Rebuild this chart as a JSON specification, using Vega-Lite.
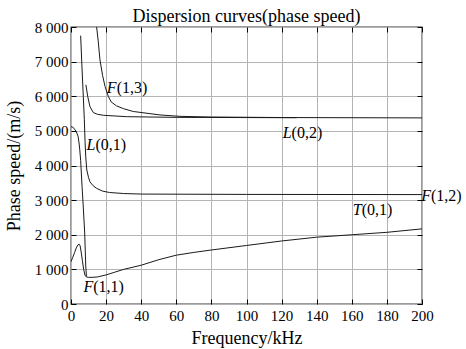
{
  "$schema": "https://vega.github.io/schema/vega-lite/v6.json",
  "width": 351,
  "height": 277,
  "autosize": "none",
  "padding": {"left": 71, "top": 27, "right": 44, "bottom": 45},
  "background": "white",
  "title": {
    "text": "Dispersion curves(phase speed)",
    "font": "Liberation Serif",
    "fontSize": 18,
    "fontWeight": "normal",
    "color": "black",
    "offset": -6
  },
  "config": {
    "font": "Liberation Serif",
    "style": {
      "guide-label": {"font": "Liberation Serif", "fontSize": 15, "fill": "black"},
      "guide-title": {"font": "Liberation Serif", "fontSize": 18, "fill": "black"}
    },
    "view": {"stroke": "#7a7a7a", "strokeWidth": 1.5},
    "axis": {
      "labelFont": "Liberation Serif",
      "titleFont": "Liberation Serif",
      "labelColor": "black",
      "titleColor": "black",
      "labelFontSize": 15,
      "titleFontSize": 18,
      "titleFontWeight": "normal",
      "tickColor": "black",
      "tickSize": -5,
      "domain": false,
      "labelFlush": false,
      "gridColor": "#b4b4b4",
      "gridOpacity": 1,
      "gridWidth": 1
    }
  },
  "datasets": {
    "curves": [
      {"mode": "F11", "f": 0, "v": 1220}, {"mode": "F11", "f": 1, "v": 1350}, {"mode": "F11", "f": 2, "v": 1480},
      {"mode": "F11", "f": 3, "v": 1620}, {"mode": "F11", "f": 4, "v": 1710}, {"mode": "F11", "f": 4.6, "v": 1730},
      {"mode": "F11", "f": 5.2, "v": 1680}, {"mode": "F11", "f": 5.8, "v": 1500}, {"mode": "F11", "f": 6.5, "v": 1250},
      {"mode": "F11", "f": 7.2, "v": 1000}, {"mode": "F11", "f": 8, "v": 830}, {"mode": "F11", "f": 8.8, "v": 780},
      {"mode": "F11", "f": 10, "v": 770}, {"mode": "F11", "f": 12, "v": 770}, {"mode": "F11", "f": 15, "v": 780},
      {"mode": "F11", "f": 20, "v": 840}, {"mode": "F11", "f": 25, "v": 920}, {"mode": "F11", "f": 30, "v": 1000},
      {"mode": "F11", "f": 40, "v": 1120}, {"mode": "F11", "f": 50, "v": 1280}, {"mode": "F11", "f": 60, "v": 1410},
      {"mode": "F11", "f": 70, "v": 1490}, {"mode": "F11", "f": 80, "v": 1560}, {"mode": "F11", "f": 100, "v": 1690},
      {"mode": "F11", "f": 120, "v": 1820}, {"mode": "F11", "f": 140, "v": 1930}, {"mode": "F11", "f": 160, "v": 2000},
      {"mode": "F11", "f": 180, "v": 2070}, {"mode": "F11", "f": 200, "v": 2170},
      {"mode": "L01", "f": 0, "v": 5120}, {"mode": "L01", "f": 1, "v": 5110}, {"mode": "L01", "f": 2, "v": 5050},
      {"mode": "L01", "f": 3, "v": 4980}, {"mode": "L01", "f": 4, "v": 4850}, {"mode": "L01", "f": 4.6, "v": 4650},
      {"mode": "L01", "f": 5, "v": 4450}, {"mode": "L01", "f": 5.5, "v": 4150}, {"mode": "L01", "f": 6.3, "v": 3400},
      {"mode": "L01", "f": 7, "v": 2800}, {"mode": "L01", "f": 7.8, "v": 2050}, {"mode": "L01", "f": 8.4, "v": 1100},
      {"mode": "L01", "f": 8.8, "v": 800},
      {"mode": "F12", "f": 5.5, "v": 7750}, {"mode": "F12", "f": 6.2, "v": 6900}, {"mode": "F12", "f": 7, "v": 6000},
      {"mode": "F12", "f": 7.6, "v": 5320}, {"mode": "F12", "f": 8, "v": 4700}, {"mode": "F12", "f": 8.4, "v": 4250},
      {"mode": "F12", "f": 9, "v": 3870}, {"mode": "F12", "f": 10, "v": 3650}, {"mode": "F12", "f": 10.8, "v": 3530},
      {"mode": "F12", "f": 12.5, "v": 3420}, {"mode": "F12", "f": 14.6, "v": 3340}, {"mode": "F12", "f": 18, "v": 3260},
      {"mode": "F12", "f": 22, "v": 3220}, {"mode": "F12", "f": 30, "v": 3190}, {"mode": "F12", "f": 40, "v": 3175},
      {"mode": "F12", "f": 100, "v": 3165}, {"mode": "F12", "f": 200, "v": 3160},
      {"mode": "L02", "f": 8.5, "v": 6330}, {"mode": "L02", "f": 9.5, "v": 6000}, {"mode": "L02", "f": 10.8, "v": 5700},
      {"mode": "L02", "f": 12.7, "v": 5530}, {"mode": "L02", "f": 15, "v": 5480}, {"mode": "L02", "f": 18.4, "v": 5450},
      {"mode": "L02", "f": 31.7, "v": 5410}, {"mode": "L02", "f": 60, "v": 5390}, {"mode": "L02", "f": 128.5, "v": 5380},
      {"mode": "F13", "f": 14.6, "v": 8000}, {"mode": "F13", "f": 15.5, "v": 7600}, {"mode": "F13", "f": 16.5, "v": 7050},
      {"mode": "F13", "f": 18, "v": 6600}, {"mode": "F13", "f": 19.4, "v": 6280}, {"mode": "F13", "f": 21.3, "v": 5990},
      {"mode": "F13", "f": 23, "v": 5830}, {"mode": "F13", "f": 26, "v": 5720}, {"mode": "F13", "f": 30, "v": 5640},
      {"mode": "F13", "f": 35.5, "v": 5560}, {"mode": "F13", "f": 50.7, "v": 5460}, {"mode": "F13", "f": 62, "v": 5420},
      {"mode": "F13", "f": 80, "v": 5400}, {"mode": "F13", "f": 120, "v": 5385}, {"mode": "F13", "f": 200, "v": 5375}
    ],
    "labels": [
      {"letter": "F", "rest": "(1,3)", "f": 26.0, "v": 6230},
      {"letter": "L", "rest": "(0,1)", "f": 13.9, "v": 4600},
      {"letter": "L", "rest": "(0,2)", "f": 125.7, "v": 4940},
      {"letter": "F", "rest": "(1,1)", "f": 12.7, "v": 480},
      {"letter": "T", "rest": "(0,1)", "f": 165.6, "v": 2720},
      {"letter": "F", "rest": "(1,2)", "f": 205.1, "v": 3130}
    ]
  },
  "layer": [
    {
      "data": {"name": "curves"},
      "mark": {"type": "line", "color": "#1a1a1a", "strokeWidth": 1, "clip": true},
      "encoding": {
        "x": {"field": "f", "type": "quantitative", "scale": {"domain": [0, 200], "nice": false},
          "axis": {"orient": "bottom", "values": [0, 20, 40, 60, 80, 100, 120, 140, 160, 180, 200], "grid": true,
            "labelFont": "Liberation Serif", "labelFontSize": 15,
            "title": "Frequency/kHz", "labelPadding": 9, "titlePadding": 6}},
        "y": {"field": "v", "type": "quantitative", "scale": {"domain": [0, 8000], "nice": false},
          "axis": {"orient": "left", "values": [0, 1000, 2000, 3000, 4000, 5000, 6000, 7000, 8000], "grid": true,
            "labelFont": "Liberation Serif", "labelFontSize": 15,
            "labelExpr": "replace(format(datum.value, ','), ',', ' ')",
            "title": "Phase speed/(m/s)", "labelPadding": 8, "titlePadding": 11}},
        "detail": {"field": "mode"},
        "order": {"field": "f", "type": "quantitative"}
      }
    },
    {
      "data": {"name": "curves"},
      "mark": {"type": "line", "opacity": 0},
      "encoding": {
        "x": {"field": "f", "type": "quantitative", "scale": {"domain": [0, 200], "nice": false},
          "axis": {"orient": "top", "values": [0, 20, 40, 60, 80, 100, 120, 140, 160, 180, 200], "grid": false,
            "labels": false, "title": null}},
        "y": {"field": "v", "type": "quantitative", "scale": {"domain": [0, 8000], "nice": false},
          "axis": {"orient": "right", "values": [0, 1000, 2000, 3000, 4000, 5000, 6000, 7000, 8000], "grid": false,
            "labels": false, "title": null}},
        "detail": {"field": "mode"}
      }
    },
    {
      "data": {"name": "labels"},
      "mark": {"type": "text", "font": "Liberation Serif", "fontSize": 16, "fontStyle": "italic", "align": "right", "baseline": "middle", "color": "black"},
      "encoding": {
        "x": {"field": "f", "type": "quantitative", "axis": null},
        "y": {"field": "v", "type": "quantitative", "axis": null},
        "text": {"field": "letter"}
      }
    },
    {
      "data": {"name": "labels"},
      "mark": {"type": "text", "font": "Liberation Serif", "fontSize": 16, "align": "left", "baseline": "middle", "color": "black"},
      "encoding": {
        "x": {"field": "f", "type": "quantitative", "axis": null},
        "y": {"field": "v", "type": "quantitative", "axis": null},
        "text": {"field": "rest"}
      }
    }
  ],
  "resolve": {"axis": {"x": "independent", "y": "independent"}}
}
